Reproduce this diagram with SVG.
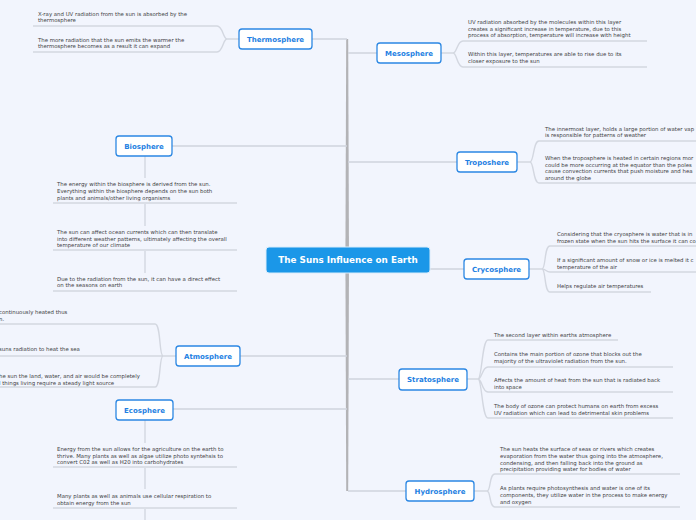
<svg xmlns="http://www.w3.org/2000/svg" width="696" height="520" viewBox="0 0 696 520">
<style>
.bg{fill:#F2F5FD}
.node rect{fill:#FFFFFF;stroke:#2B87E3;stroke-width:1.3}
.node text{font-family:"DejaVu Sans",Verdana,sans-serif;font-weight:bold;font-size:7px;fill:#1E7FE2;text-anchor:middle}
.root rect{fill:#1B97E8;stroke:#D9ECFB;stroke-width:1}
.root text{font-family:"DejaVu Sans",Verdana,sans-serif;font-weight:bold;font-size:8.8px;fill:#FFFFFF;text-anchor:middle}
.leaf text{font-family:"DejaVu Sans",Verdana,sans-serif;font-size:5.4px;fill:#3F3F44}
.ul{fill:none;stroke:#D3D7E0;stroke-width:1.4}
.br{fill:none;stroke:#D0D4DD;stroke-width:1.3}
.trunk{fill:#B3B3B6}
</style>
<rect class="bg" x="0" y="0" width="696" height="520"/>

<g id="connectors">
  <polygon class="trunk" points="346.2,39 348.2,39 349,260 348.2,491 346.2,491 345.4,260"/>
  <path class="br" d="M312,39 H347 M172,146 H347 M240,356 H347 M173,409 H347 M348,53 H377 M348,162 H457 M430,269 H464 M348,379 H399 M348,491 H406"/>
  <!-- Thermosphere -->
  <path class="ul" d="M239,39 H227 C223,39 223,26 217,26 H33 M227,39 C223,39 223,52 217,52 H33"/>
  <!-- Mesosphere -->
  <path class="ul" d="M441,53 H453 C457,53 457,41 463,41 H647 M453,53 C457,53 457,67 463,67 H647"/>
  <!-- Troposhere -->
  <path class="ul" d="M517,162 H530 C534,162 533,141 539,141 H700 M530,162 C534,162 533,183 539,183 H700"/>
  <!-- Crycosphere -->
  <path class="ul" d="M529,269 H542 C546,269 544,246 550,246 H700 M542,269 C546,269 546,272 550,272 H700 M542,269 C546,269 544,292 550,292 H651"/>
  <!-- Stratosphere -->
  <path class="ul" d="M467,379 H478 C482,379 482,340 488,340 H618 M478,379 C482,379 482,367 488,367 H673 M478,379 C482,379 482,392 488,392 H673 M478,379 C482,379 482,418 488,418 H673"/>
  <!-- Hydrosphere -->
  <path class="ul" d="M474,491 H487 C491,491 489,474 495,474 H680 M487,491 C491,491 489,507 495,507 H680"/>
  <!-- Atmosphere -->
  <path class="ul" d="M176,356 H163 C159,356 161,324 155,324 H-5 M163,356 H-5 M163,356 C159,356 161,387 155,387 H-5"/>
  <!-- Biosphere -->
  <path class="ul" d="M145,156 V178 M145,204 V226 M145,251 V273 M53,203 H237 M53,250 H237 M53,291 H237"/>
  <!-- Ecosphere -->
  <path class="ul" d="M145,420 V443 M145,468 V489 M145,509 V520 M53,467 H237 M53,508 H237"/>
</g>

<g id="root" class="root">
  <rect x="266" y="247" width="164" height="26" rx="3"/>
  <text x="348" y="263.2">The Suns Influence on Earth</text>
</g>

<g id="thermosphere" class="node"><rect x="239" y="29" width="73" height="20" rx="3"/><text x="275.5" y="41.5">Thermosphere</text></g>
<g id="mesosphere" class="node"><rect x="377" y="43" width="64" height="20" rx="3"/><text x="409" y="55.5">Mesosphere</text></g>
<g id="biosphere" class="node"><rect x="116" y="136" width="56" height="20" rx="3"/><text x="144" y="148.5">Biosphere</text></g>
<g id="troposhere" class="node"><rect x="457" y="152" width="60" height="20" rx="3"/><text x="487" y="164.5">Troposhere</text></g>
<g id="crycosphere" class="node"><rect x="464" y="259" width="65" height="20" rx="3"/><text x="496.5" y="271.5">Crycosphere</text></g>
<g id="atmosphere" class="node"><rect x="176" y="346" width="64" height="20" rx="3"/><text x="208" y="358.5">Atmosphere</text></g>
<g id="ecosphere" class="node"><rect x="116" y="400" width="57" height="20" rx="3"/><text x="144.5" y="412.5">Ecosphere</text></g>
<g id="stratosphere" class="node"><rect x="399" y="369" width="68" height="21" rx="3"/><text x="433" y="382">Stratosphere</text></g>
<g id="hydrosphere" class="node"><rect x="406" y="481" width="68" height="20" rx="3"/><text x="440" y="493.5">Hydrosphere</text></g>

<g id="thermo-leaves" class="leaf">
  <text x="38" y="16">X-ray and UV radiation from the sun is absorbed by the</text>
  <text x="38" y="22">thermosphere</text>
  <text x="38" y="42">The more radiation that the sun emits the warmer the</text>
  <text x="38" y="48">thermosphere becomes as a result it can expand</text>
</g>
<g id="meso-leaves" class="leaf">
  <text x="468" y="24">UV radiation absorbed by the molecules within this layer</text>
  <text x="468" y="30.5">creates a significant increase in temperature, due to this</text>
  <text x="468" y="37">process of absorption, temperature will increase with height</text>
  <text x="468" y="56">Within this layer, temperatures are able to rise due to its</text>
  <text x="468" y="63">closer exposure to the sun</text>
</g>
<g id="tropo-leaves" class="leaf">
  <text x="545" y="131">The innermost layer, holds a large portion of water vap</text>
  <text x="545" y="137">is responsible for patterns of weather</text>
  <text x="545" y="160">When the troposphere is heated in certain regions mor</text>
  <text x="545" y="166.7">could be more occurring at the equator than the poles</text>
  <text x="545" y="173.4">cause convection currents  that push moisture and hea</text>
  <text x="545" y="180">around the globe</text>
</g>
<g id="cryo-leaves" class="leaf">
  <text x="557" y="236">Considering that the cryosphere is water that is in</text>
  <text x="557" y="243">frozen state when the sun hits the surface it can co</text>
  <text x="557" y="262">If a significant amount of snow or ice is melted it c</text>
  <text x="557" y="269">temperature of the air</text>
  <text x="557" y="288">Helps regulate air temperatures</text>
</g>
<g id="bio-leaves" class="leaf">
  <text x="57" y="186">The energy within the biosphere is derived from the sun.</text>
  <text x="57" y="193">Everything within the biosphere depends on the sun both</text>
  <text x="57" y="200">plants and animals/other living organisms</text>
  <text x="57" y="234">The sun can affect ocean currents which can then translate</text>
  <text x="57" y="240.5">into different weather patterns, ultimately affecting the overall</text>
  <text x="57" y="247">temperature of our climate</text>
  <text x="57" y="281">Due to the radiation from the sun, it can have a direct effect</text>
  <text x="57" y="287">on the seasons on earth</text>
</g>
<g id="atmo-leaves" class="leaf">
  <text x="-1" y="314">continuously heated thus</text>
  <text x="-1" y="321">n.</text>
  <text x="-1" y="351">suns radiation to heat the sea</text>
  <text x="-1" y="378">he sun the land, water, and air would be completely</text>
  <text x="-1" y="384.5">l things living require a steady light source</text>
</g>
<g id="eco-leaves" class="leaf">
  <text x="57" y="451">Energy from the sun allows for the agriculture on the earth to</text>
  <text x="57" y="457.5">thrive. Many plants as well as algae utilize photo syntehsis to</text>
  <text x="57" y="464">convert C02 as well as H20 into carbohydrates</text>
  <text x="57" y="498">Many plants as well as animals use cellular respiration to</text>
  <text x="57" y="504.5">obtain energy from the sun</text>
</g>
<g id="strato-leaves" class="leaf">
  <text x="494" y="337">The second layer within earths atmosphere</text>
  <text x="494" y="356">Contains the main portion of ozone that blocks out the</text>
  <text x="494" y="363">majority of the ultraviolet radiation from the sun.</text>
  <text x="494" y="382">Affects the amount of heat from the sun that is radiated back</text>
  <text x="494" y="389">into space</text>
  <text x="494" y="408">The body of ozone can protect humans on earth from excess</text>
  <text x="494" y="415">UV radiation which can lead to detrimental skin problems</text>
</g>
<g id="hydro-leaves" class="leaf">
  <text x="500" y="451">The sun heats the surface of seas or  rivers which creates</text>
  <text x="500" y="458">evaporation from the water thus going into the atmosphere,</text>
  <text x="500" y="464.5">condensing, and then falling back into the ground as</text>
  <text x="500" y="471">precipitation providing water for bodies of water</text>
  <text x="500" y="490">As plants require photosynthesis and water is one of its</text>
  <text x="500" y="497">components, they utilize water in the process to make energy</text>
  <text x="500" y="503.5">and oxygen</text>
</g>
</svg>
